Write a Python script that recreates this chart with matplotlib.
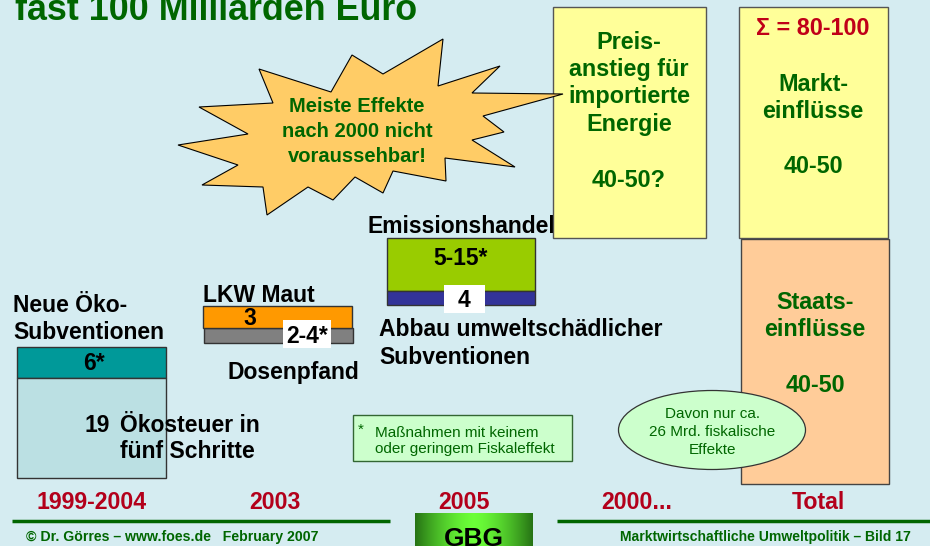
import matplotlib
matplotlib.use("Agg")
import matplotlib.pyplot as plt
from matplotlib.patches import Rectangle, Polygon, Ellipse
import numpy as np

# ---- data ----
title = "fast 100 Milliarden Euro"
categories = ["1999-2004", "2003", "2005", "2000...", "Total"]
oeko_values = ["6*", "19"]
lkw_values = ["3", "2-4*"]
emission_values = ["5-15*", "4"]
energie_value = "40-50?"
markt_value = "40-50"
staat_value = "40-50"
total_value = "\u03a3 = 80-100"
footer_left = "\u00a9 Dr. G\u00f6rres \u2013 www.foes.de   February 2007"
footer_right = "Marktwirtschaftliche Umweltpolitik \u2013 Bild 17"

BG = "#D5ECF1"
GREEN = "#006600"
RED = "#B3001B"
FONT = "Liberation Sans"
LBL = 16.5   # black label size
BOX = 16.8   # box text size

fig = plt.figure(figsize=(9.3, 5.46), dpi=100)
fig.patch.set_facecolor(BG)
ax = fig.add_axes([0, 0, 1, 1])
ax.set_xlim(0, 930)
ax.set_ylim(546, 0)
ax.axis("off")
ax.set_facecolor(BG)


def txt(x, y, s, size=LBL, color="black", ha="left", weight="bold", z=5, **kw):
    ax.text(x, y, s, fontsize=size, color=color, ha=ha, va="baseline",
            fontweight=weight, family=FONT, zorder=z, **kw)


def rect(x0, y0, x1, y1, fc, ec="#333333", lw=1.0, z=2):
    ax.add_patch(Rectangle((x0, y0), x1 - x0, y1 - y0, facecolor=fc,
                           edgecolor=ec, linewidth=lw, zorder=z))


# title
txt(15, 20, title, size=25.8, color=GREEN)

# starburst
star = [(178, 145), (248, 134), (199, 107), (273, 103), (259, 69), (331, 92),
        (352, 55), (383, 74), (443, 39), (438, 86), (500, 66), (472, 93),
        (563, 94), (483, 116), (504, 132), (472, 140), (515, 167), (445, 158),
        (446, 181), (393, 171), (383, 193), (355, 177), (333, 200), (308, 187),
        (267, 215), (263, 187), (202, 185), (238, 165)]
ax.add_patch(Polygon(star, closed=True, facecolor="#FFCC66", edgecolor="black",
                     linewidth=0.8, zorder=3))
for yy, s in zip([112, 137, 162], ["Meiste Effekte", "nach 2000 nicht", "voraussehbar!"]):
    txt(357, yy, s, size=14.5, color=GREEN, ha="center", z=4)

# Neue Oeko-Subventionen / Oekosteuer
txt(13, 312, "Neue \u00d6ko-")
txt(13, 339, "Subventionen")
rect(17, 347, 166, 378, "#009999")
rect(17, 378, 166, 478, "#BBE0E3")
txt(94, 370, oeko_values[0], ha="center")
txt(84, 432, oeko_values[1])
txt(120, 432, "\u00d6kosteuer in")
txt(120, 458, "f\u00fcnf Schritte")

# LKW Maut / Dosenpfand
txt(203, 302, "LKW Maut")
rect(204, 328, 353, 343, "#808080")
rect(203, 306, 352, 328, "#FF9900")
txt(250, 325, lkw_values[0], ha="center")
rect(283, 320, 331, 348, "white", ec="none", lw=0, z=3)
txt(307, 343, lkw_values[1], ha="center")
txt(227, 379, "Dosenpfand")

# Emissionshandel / Abbau
txt(367, 233, "Emissionshandel", z=1)
rect(387, 238, 535, 291, "#99CC00")
rect(387, 291, 535, 305, "#333399")
txt(461, 265, emission_values[0], ha="center")
rect(444, 285, 485, 313, "white", ec="none", lw=0, z=3)
txt(464, 307, emission_values[1], ha="center")
txt(379, 336, "Abbau umweltsch\u00e4dlicher")
txt(379, 364, "Subventionen")

# Preis box
rect(553, 7, 706, 238, "#FFFF99", ec="#555555", z=2)
for yy, s in zip([49, 76, 103, 131, 187],
                 ["Preis-", "anstieg f\u00fcr", "importierte", "Energie", energie_value]):
    txt(629, yy, s, size=BOX, color=GREEN, ha="center")

# Markt box
rect(739, 7, 888, 238, "#FFFF99", ec="#555555", z=2)
txt(813, 35, total_value, size=BOX, color="#C00018", ha="center")
for yy, s in zip([91, 118, 173], ["Markt-", "einfl\u00fcsse", markt_value]):
    txt(813, yy, s, size=BOX, color=GREEN, ha="center")

# Staats box
rect(741, 239, 889, 484, "#FFCC99", ec="#444444", z=2)
for yy, s in zip([309, 336, 392], ["Staats-", "einfl\u00fcsse", staat_value]):
    txt(815, yy, s, size=BOX, color=GREEN, ha="center")

# ellipse
ax.add_patch(Ellipse((712, 430), 187, 79, facecolor="#CCFFCC", edgecolor="#333333",
                     linewidth=0.9, zorder=6))
for yy, s in zip([418, 436, 454], ["Davon nur ca.", "26 Mrd. fiskalische", "Effekte"]):
    txt(712, yy, s, size=11, color=GREEN, ha="center", weight="normal", z=7)

# legend box
rect(353, 415, 572, 461, "#CCFFCC", ec="#336633", z=2)
txt(358, 434, "*", size=11, color=GREEN, weight="normal")
txt(375, 437, "Ma\u00dfnahmen mit keinem", size=11, color=GREEN, weight="normal")
txt(375, 453, "oder geringem Fiskaleffekt", size=11, color=GREEN, weight="normal")

# category labels
cat_x = [92, 275, 464, 637, 818]
for cx, c in zip(cat_x, categories):
    txt(cx, 509, c, size=16.7, color=RED, ha="center")

# footer lines
ax.plot([12, 390], [521, 521], color="#006600", lw=2.5, zorder=2, solid_capstyle="butt")
ax.plot([557, 930], [521, 521], color="#006600", lw=2.5, zorder=2, solid_capstyle="butt")

# GBG gradient box
xs = np.linspace(-1, 1, 200)
grad = 1 - np.abs(xs) ** 1.5
dark = np.array([0.15, 0.45, 0.08])
bright = np.array([0.42, 1.0, 0.22])
img = dark[None, :] + (bright - dark)[None, :] * grad[:, None]
img = np.tile(img[None, :, :], (10, 1, 1))
ax.imshow(img, extent=[415, 533, 546, 513], aspect="auto", zorder=3)
ax.set_xlim(0, 930)
ax.set_ylim(546, 0)
txt(474, 546, "GBG", size=19, ha="center", z=4)

txt(26, 541, footer_left, size=10.2, color=GREEN)
txt(911, 541, footer_right, size=10.1, color=GREEN, ha="right")

fig.savefig("out.png", dpi=100, facecolor=BG)
